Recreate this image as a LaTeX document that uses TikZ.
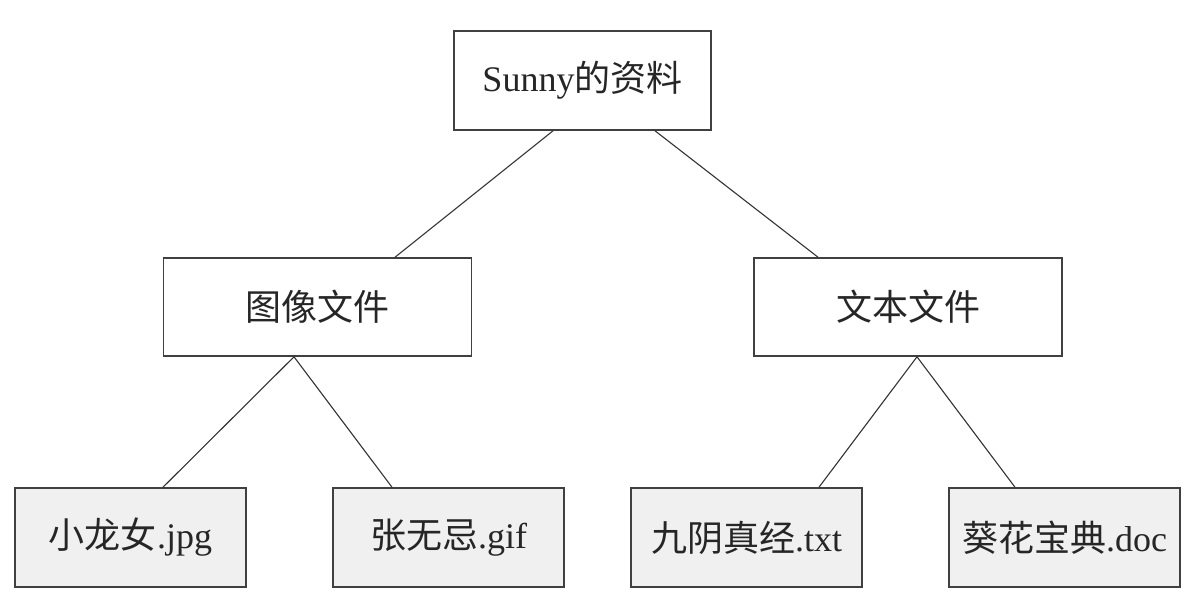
\documentclass[tikz,border=0pt]{standalone}
\usepackage{fontspec}
\setmainfont{Liberation Serif}
\newfontfamily\cjk{Noto Sans CJK SC}
\begin{document}
\begin{tikzpicture}[x=1pt,y=-1pt,
  box/.style={draw=black!75,line width=1.6pt,rectangle,inner sep=0pt,
    font=\fontsize{36}{40}\selectfont,text=black!85},
  topbox/.style={box,minimum width=257pt,minimum height=99pt,fill=white},
  midbox/.style={box,minimum width=308pt,minimum height=98pt,fill=white},
  leafbox/.style={box,minimum width=231pt,minimum height=99pt,fill=black!6},
  link/.style={draw=black!80,line width=1.1pt}]
  \useasboundingbox (0,0) rectangle (1197,602);
  % root folder
  \node[topbox] (root) at (582.5,80.5) {Sunny{\cjk 的资料}};
  % sub folders
  \node[midbox] (img) at (317.5,307) {\cjk 图像文件};
  \node[midbox] (txt) at (908,307) {\cjk 文本文件};
  % files
  \node[leafbox] (f1) at (130.5,537.5) {{\cjk 小龙女}.jpg};
  \node[leafbox] (f2) at (448.5,537.5) {{\cjk 张无忌}.gif};
  \node[leafbox] (f3) at (746.5,537.5) {{\cjk 九阴真经}.txt};
  \node[leafbox] (f4) at (1064.5,537.5) {{\cjk 葵花宝典}.doc};
  % tree edges
  \draw[link] ([xshift=-29.5pt]root.south) -- ([xshift=77.5pt]img.north);
  \draw[link] ([xshift=72.5pt]root.south) -- ([xshift=-90pt]txt.north);
  \draw[link] ([xshift=-23.5pt]img.south) -- ([xshift=32.5pt]f1.north);
  \draw[link] ([xshift=-23.5pt]img.south) -- ([xshift=-56.5pt]f2.north);
  \draw[link] ([xshift=9pt]txt.south) -- ([xshift=72.5pt]f3.north);
  \draw[link] ([xshift=9pt]txt.south) -- ([xshift=-49.5pt]f4.north);
\end{tikzpicture}
\end{document}
